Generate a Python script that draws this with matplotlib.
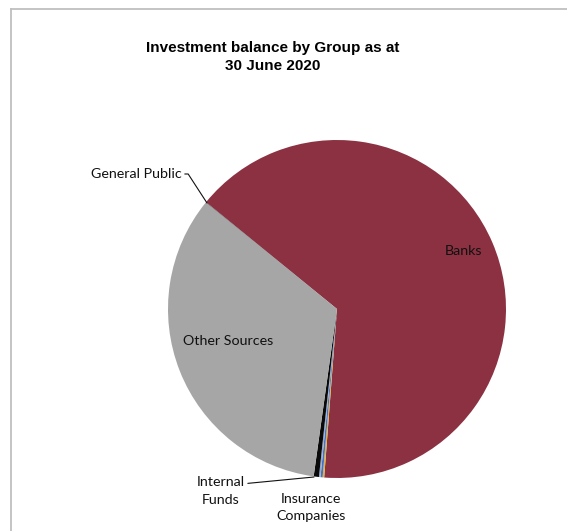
import matplotlib
matplotlib.use("Agg")
import matplotlib.pyplot as plt
from matplotlib.lines import Line2D

# slices in clockwise order starting from the General Public / Banks boundary
groups = ["Banks", "", "Insurance Companies", "", "Internal Funds",
          "Other Sources", "General Public"]
shares = [65.45, 0.15, 0.2, 0.15, 0.5, 33.7, 0.05]
colors = ["#8C3141", "#E3B23C", "#4472C4", "#9AAAC4", "#0A0A0A",
          "#A6A6A6", "#5A5A5A"]
title = "Investment balance by Group as at\n30 June 2020"

W, H = 567, 531
fig = plt.figure(figsize=(W / 100, H / 100), dpi=100)

# chart-area border (only top and left visible in the crop)
fig.add_artist(Line2D([11 / W, 1], [1 - 8.5 / H, 1 - 8.5 / H], color="#BFBFBF", lw=1.3))
fig.add_artist(Line2D([11 / W, 11 / W], [0, 1 - 8.5 / H], color="#BFBFBF", lw=1.3))

fig.text(273 / W, 1 - 57 / H, title, ha="center", va="center", fontsize=11,
         fontweight="bold", linespacing=1.45,
         family=["Liberation Sans Narrow", "Liberation Sans", "DejaVu Sans"])

cx, cy, r = 337, 309, 169
ax = fig.add_axes([(cx - r) / W, (H - cy - r) / H, 2 * r / W, 2 * r / H])
ax.pie(shares, colors=colors, startangle=140.8, counterclock=False,
       wedgeprops=dict(linewidth=0))
ax.set_xlim(-1, 1)
ax.set_ylim(-1, 1)
ax.set_aspect("equal")
ax.axis("off")

lab = dict(fontsize=10.3, family=["Lato", "DejaVu Sans"], color="#111111")


def px(x, y):
    return ((x - cx) / r, (cy - y) / r)


ax.text(*px(464, 251), "Banks", ha="center", va="center", **lab)
ax.text(*px(228, 341), "Other Sources", ha="center", va="center", **lab)
ax.annotate("General Public", xy=px(207, 203), xytext=px(182, 174),
            ha="right", va="center", annotation_clip=False,
            arrowprops=dict(arrowstyle="-", color="#111111", lw=0.8,
                            connectionstyle="angle,angleA=0,angleB=-57,rad=0",
                            shrinkA=0, shrinkB=0), **lab)
ax.annotate("Internal\nFunds", xy=px(314, 477), xytext=px(221, 491),
            ha="center", va="center", annotation_clip=False, linespacing=1.55,
            arrowprops=dict(arrowstyle="-", color="#111111", lw=0.8,
                            shrinkA=0, shrinkB=0,
                            relpos=(1.0, 0.75)), **lab)
ax.text(*px(311, 507.5), "Insurance\nCompanies", ha="center", va="center",
        linespacing=1.55, clip_on=False, **lab)

fig.savefig("out.png", dpi=100)
